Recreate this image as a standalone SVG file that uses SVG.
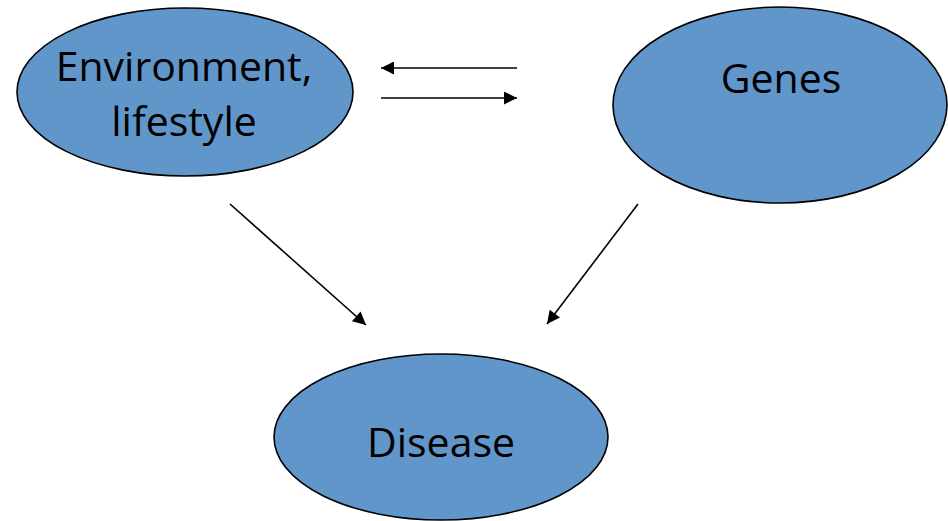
<svg xmlns="http://www.w3.org/2000/svg" width="948" height="521" viewBox="0 0 948 521">
<defs>
<marker id="ah" viewBox="0 0 10 10" refX="10" refY="5" markerWidth="17" markerHeight="13" markerUnits="userSpaceOnUse" orient="auto">
<path d="M0,0 L10,5 L0,10 z" fill="#000"/>
</marker>
<style>
.node{fill:#6096C9;stroke:#000;stroke-width:1.6}
.lbl{font-family:"Open Sans","Liberation Sans",sans-serif;font-size:41px;fill:#000;text-anchor:middle}
.conn line{stroke:#000;stroke-width:1.6;marker-end:url(#ah)}
</style>
</defs>
<rect width="948" height="521" fill="#fff"/>
<g id="environment">
<ellipse class="node" cx="185" cy="92" rx="168" ry="84"/>
<text class="lbl" x="184" y="81">Environment,</text>
<text class="lbl" x="184" y="136">lifestyle</text>
</g>
<g id="genes">
<ellipse class="node" cx="780" cy="105" rx="167" ry="98"/>
<text class="lbl" x="781" y="93">Genes</text>
</g>
<g id="disease">
<ellipse class="node" cx="441" cy="437" rx="167" ry="83"/>
<text class="lbl" x="441" y="457">Disease</text>
</g>
<g id="connectors" class="conn">
<line x1="517" y1="68" x2="381" y2="68"/>
<line x1="381" y1="98" x2="517" y2="98"/>
<line x1="230" y1="204" x2="366" y2="325"/>
<line x1="638" y1="204" x2="547" y2="324"/>
</g>
</svg>
